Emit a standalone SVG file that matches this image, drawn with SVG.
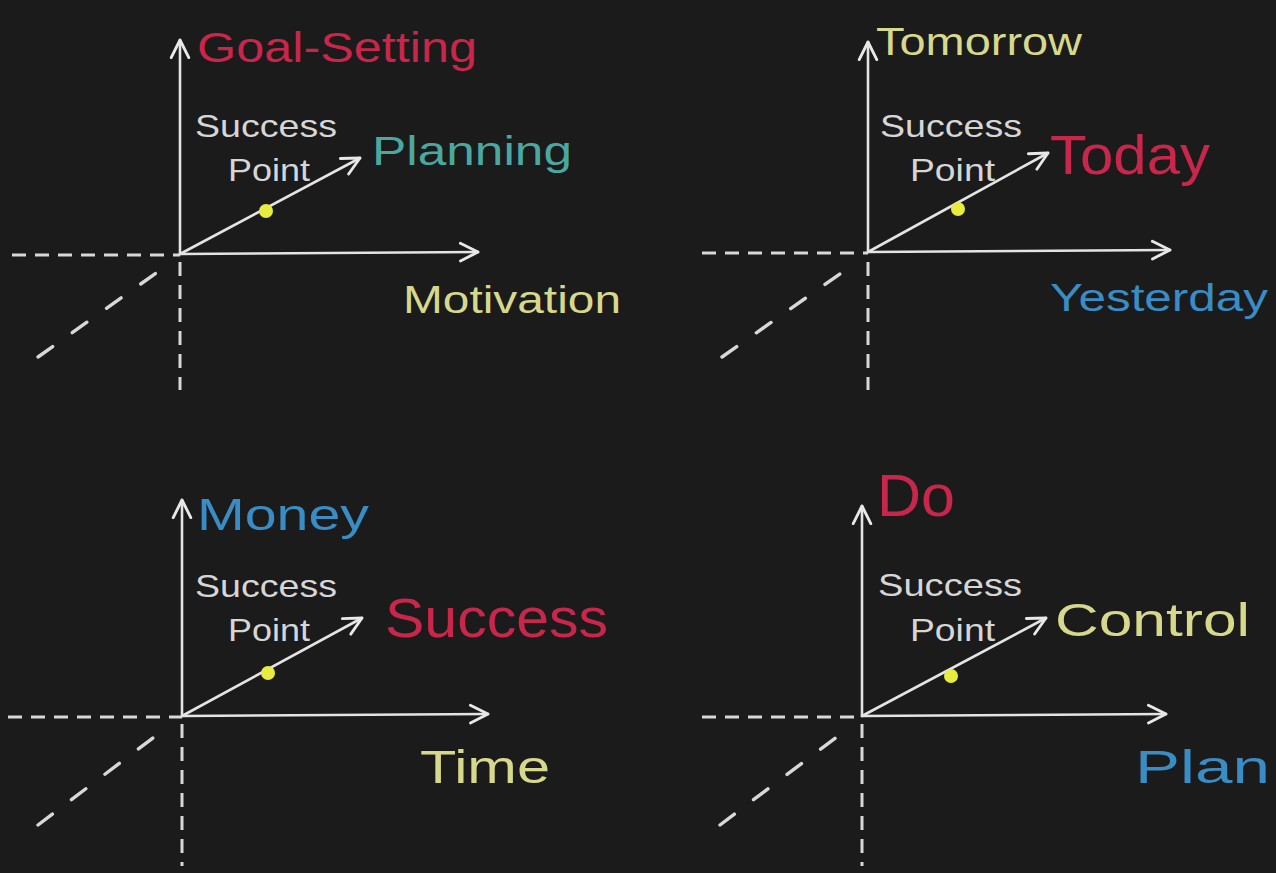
<svg xmlns="http://www.w3.org/2000/svg" width="1276" height="873" viewBox="0 0 1276 873">
<defs>
<marker id="arr" viewBox="0 0 20 20" refX="18" refY="10" markerWidth="22" markerHeight="22" markerUnits="userSpaceOnUse" orient="auto">
<path d="M2,2 L18,10 L2,18" fill="none" stroke="#e8e8e8" stroke-width="2.6" stroke-linecap="round" stroke-linejoin="round"/>
</marker>
<style>
.ax{stroke:#e4e4e4;stroke-width:2.6;fill:none;stroke-linecap:round}
.da{stroke:#d8d8d8;stroke-width:3;fill:none;stroke-dasharray:14 9}
.dd{stroke:#d8d8d8;stroke-width:3.4;fill:none;stroke-dasharray:18 24;stroke-linecap:round}
.dot{fill:#e8ec40}
text{font-family:"Liberation Sans","DejaVu Sans",sans-serif;}
.sp{fill:#d6d6d6;font-size:32px}
.red{fill:#c8264a}
.yel{fill:#d6d88c}
.blu{fill:#3a8cc4}
.teal{fill:#4aa8a0}
</style>
</defs>
<rect width="1276" height="873" fill="#1b1b1b"/>
<g id="connectors">
<line class="ax" x1="180" y1="254" x2="180" y2="40" marker-end="url(#arr)"/>
<line class="ax" x1="180" y1="254" x2="478" y2="252" marker-end="url(#arr)"/>
<line class="ax" x1="180" y1="254" x2="360" y2="158" marker-end="url(#arr)"/>
<line class="da" x1="12" y1="255" x2="180" y2="255"/>
<line class="da" x1="180" y1="262" x2="180" y2="390"/>
<line class="dd" x1="38" y1="357" x2="166" y2="266"/>
<line class="ax" x1="868" y1="252" x2="868" y2="42" marker-end="url(#arr)"/>
<line class="ax" x1="868" y1="252" x2="1170" y2="250" marker-end="url(#arr)"/>
<line class="ax" x1="868" y1="252" x2="1048" y2="153" marker-end="url(#arr)"/>
<line class="da" x1="702" y1="253" x2="868" y2="253"/>
<line class="da" x1="868" y1="262" x2="868" y2="390"/>
<line class="dd" x1="722" y1="357" x2="854" y2="264"/>
<line class="ax" x1="182" y1="716" x2="182" y2="500" marker-end="url(#arr)"/>
<line class="ax" x1="182" y1="716" x2="488" y2="714" marker-end="url(#arr)"/>
<line class="ax" x1="182" y1="716" x2="362" y2="618" marker-end="url(#arr)"/>
<line class="da" x1="8" y1="717" x2="182" y2="717"/>
<line class="da" x1="182" y1="724" x2="182" y2="866"/>
<line class="dd" x1="38" y1="825" x2="166" y2="728"/>
<line class="ax" x1="862" y1="716" x2="862" y2="506" marker-end="url(#arr)"/>
<line class="ax" x1="862" y1="716" x2="1166" y2="714" marker-end="url(#arr)"/>
<line class="ax" x1="862" y1="716" x2="1046" y2="618" marker-end="url(#arr)"/>
<line class="da" x1="702" y1="717" x2="862" y2="717"/>
<line class="da" x1="862" y1="724" x2="862" y2="866"/>
<line class="dd" x1="720" y1="825" x2="846" y2="730"/>
</g>
<g id="q1">
<circle class="dot" cx="266" cy="211" r="7"/>
<text id="q1-goal" class="red" x="197" y="62" font-size="42" textLength="280" lengthAdjust="spacingAndGlyphs">Goal-Setting</text>
<text id="q1-success" class="sp" x="195" y="137" textLength="142" lengthAdjust="spacingAndGlyphs">Success</text>
<text id="q1-point" class="sp" x="228" y="181" textLength="82" lengthAdjust="spacingAndGlyphs">Point</text>
<text id="q1-planning" class="teal" x="372" y="165" font-size="40" textLength="200" lengthAdjust="spacingAndGlyphs">Planning</text>
<text id="q1-motivation" class="yel" x="403" y="313" font-size="38" textLength="218" lengthAdjust="spacingAndGlyphs">Motivation</text>
</g>
<g id="q2">
<circle class="dot" cx="958" cy="209" r="7"/>
<text id="q2-tomorrow" class="yel" x="876" y="55" font-size="38" textLength="206" lengthAdjust="spacingAndGlyphs">Tomorrow</text>
<text id="q2-success" class="sp" x="880" y="137" textLength="142" lengthAdjust="spacingAndGlyphs">Success</text>
<text id="q2-point" class="sp" x="910" y="181" textLength="85" lengthAdjust="spacingAndGlyphs">Point</text>
<text id="q2-today" class="red" x="1050" y="174" font-size="56" textLength="160" lengthAdjust="spacingAndGlyphs">Today</text>
<text id="q2-yesterday" class="blu" x="1050" y="311" font-size="38" textLength="218" lengthAdjust="spacingAndGlyphs">Yesterday</text>
</g>
<g id="q3">
<circle class="dot" cx="268" cy="673" r="7"/>
<text id="q3-money" class="blu" x="197" y="530" font-size="44" textLength="172" lengthAdjust="spacingAndGlyphs">Money</text>
<text id="q3-success" class="sp" x="195" y="597" textLength="142" lengthAdjust="spacingAndGlyphs">Success</text>
<text id="q3-point" class="sp" x="228" y="641" textLength="82" lengthAdjust="spacingAndGlyphs">Point</text>
<text id="q3-successbig" class="red" x="385" y="637" font-size="56" textLength="223" lengthAdjust="spacingAndGlyphs">Success</text>
<text id="q3-time" class="yel" x="420" y="783" font-size="46" textLength="130" lengthAdjust="spacingAndGlyphs">Time</text>
</g>
<g id="q4">
<circle class="dot" cx="951" cy="676" r="7"/>
<text id="q4-do" class="red" x="877" y="516" font-size="60" textLength="78" lengthAdjust="spacingAndGlyphs">Do</text>
<text id="q4-success" class="sp" x="878" y="596" textLength="144" lengthAdjust="spacingAndGlyphs">Success</text>
<text id="q4-point" class="sp" x="910" y="641" textLength="85" lengthAdjust="spacingAndGlyphs">Point</text>
<text id="q4-control" class="yel" x="1055" y="636" font-size="46" textLength="195" lengthAdjust="spacingAndGlyphs">Control</text>
<text id="q4-plan" class="blu" x="1135" y="783" font-size="46" textLength="135" lengthAdjust="spacingAndGlyphs">Plan</text>
</g>
</svg>
